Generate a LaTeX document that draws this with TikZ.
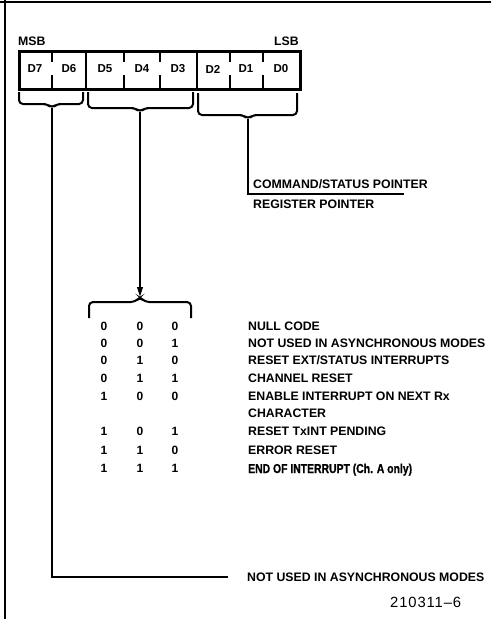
\documentclass[tikz,border=0pt]{standalone}
\usepackage{fontspec}
\setmainfont{Liberation Sans}
\newfontfamily\condfont[FakeStretch=0.8,FakeBold=0.8]{Liberation Sans Bold}
\usetikzlibrary{arrows.meta}
\begin{document}
\begin{tikzpicture}[x=1pt,y=-1pt,
  lbl/.style={font=\fontsize{12.3}{14}\selectfont\bfseries, inner sep=0pt, anchor=base west},
  bit/.style={font=\fontsize{11.5}{13}\selectfont\bfseries, inner sep=0pt},
  val/.style={font=\fontsize{12}{13}\selectfont\bfseries, inner sep=0pt, anchor=base},
  regbox/.style={draw, line width=2.8pt, inner sep=0pt, anchor=north west, minimum width=281pt, minimum height=38pt},
  thickdiv/.style={line width=2.8pt},
  thindiv/.style={line width=2.2pt},
  wire/.style={line width=2pt},
  bracepath/.style={line width=2pt, rounded corners=4pt},
]
\useasboundingbox (0,0) rectangle (491,619);
% frame
\draw[line width=2pt] (0,1.5) -- (491,1.5);
\draw[line width=1.6pt] (5,0) -- (5,619);

% register
\node[regbox] (reg) at (18,50) {};
\draw[thickdiv] (86,50) -- (86,88) (197,50) -- (197,88);
\foreach \x in {52,124,160,230,263} {
  \draw[thindiv] (\x,50) -- (\x,62) (\x,75) -- (\x,88);
}
\node[bit] (d7) at (35,69) {D7};
\node[bit] (d6) at (69,69) {D6};
\node[bit] (d5) at (105,69) {D5};
\node[bit] (d4) at (142,69) {D4};
\node[bit] (d3) at (178,69) {D3};
\node[bit] (d2) at (213,69) {D2};
\node[bit] (d1) at (246,69) {D1};
\node[bit] (d0) at (281,69) {D0};
\node[lbl, anchor=base west] (msb) at (18,45) {MSB};
\node[lbl, anchor=base east] (lsb) at (299,45) {LSB};

% texts
\node[lbl] (cmd) at (253,188) {COMMAND/STATUS POINTER};
\node[lbl] (rp) at (253,208) {REGISTER POINTER};
\node[lbl] (nu) at (247,581) {NOT USED IN ASYNCHRONOUS MODES};
\node[font=\fontsize{14.8}{16}\selectfont\addfontfeature{LetterSpace=6}, inner sep=0pt, anchor=base west] (fig) at (390,607) {210311--6};

% brace D7-D6
\coordinate (t1) at (52,108);
\draw[bracepath] (19,92) -- (19,104) -- (47,104) -- (t1) -- (57,104) -- (83,104) -- (83,92);
\coordinate (e1) at (228,577);
\draw[wire] (t1) |- (e1);

% brace D5-D3
\coordinate (t2) at (140,112);
\draw[bracepath] (88,92) -- (88,108) -- (135,108) -- (t2) -- (145,108) -- (193,108) -- (193,92);

% brace D2-D0
\coordinate (t3) at (248,119);
\draw[bracepath] (198,93) -- (198,115) -- (243,115) -- (t3) -- (253,115) -- (297,115) -- (297,93);
\coordinate (e3) at (404,194);
\draw[wire] (t3) |- (e3);

% lower brace
\coordinate (t4) at (140,297);
\draw[bracepath] (89,318) -- (89,302) -- (135,302) -- (t4) -- (145,302) -- (191,302) -- (191,318);
\draw[wire, -{Triangle[length=10pt,width=5.5pt]}] (t2) -- (t4);

% table
\foreach \y/\a/\b/\c [count=\i] in {330/0/0/0, 347/0/0/1, 364/0/1/0, 382/0/1/1, 400/1/0/0, 435/1/0/1, 454/1/1/0, 472/1/1/1} {
  \node[val] (va\i) at (104,\y) {\a};
  \node[val] (vb\i) at (140,\y) {\b};
  \node[val] (vc\i) at (175,\y) {\c};
}
\node[lbl] (r1) at (248,330) {NULL CODE};
\node[lbl] (r2) at (248,347) {NOT USED IN ASYNCHRONOUS MODES};
\node[lbl] (r3) at (248,364) {RESET EXT/STATUS INTERRUPTS};
\node[lbl] (r4) at (248,382) {CHANNEL RESET};
\node[lbl] (r5) at (248,400) {ENABLE INTERRUPT ON NEXT Rx};
\node[lbl] (r5b) at (248,417) {CHARACTER};
\node[lbl] (r6) at (248,435) {RESET TxINT PENDING};
\node[lbl] (r7) at (248,454) {ERROR RESET};
\node[lbl, font=\fontsize{13}{15}\condfont] (r8) at (248,473) {END OF INTERRUPT (Ch. A only)};
\end{tikzpicture}
\end{document}
